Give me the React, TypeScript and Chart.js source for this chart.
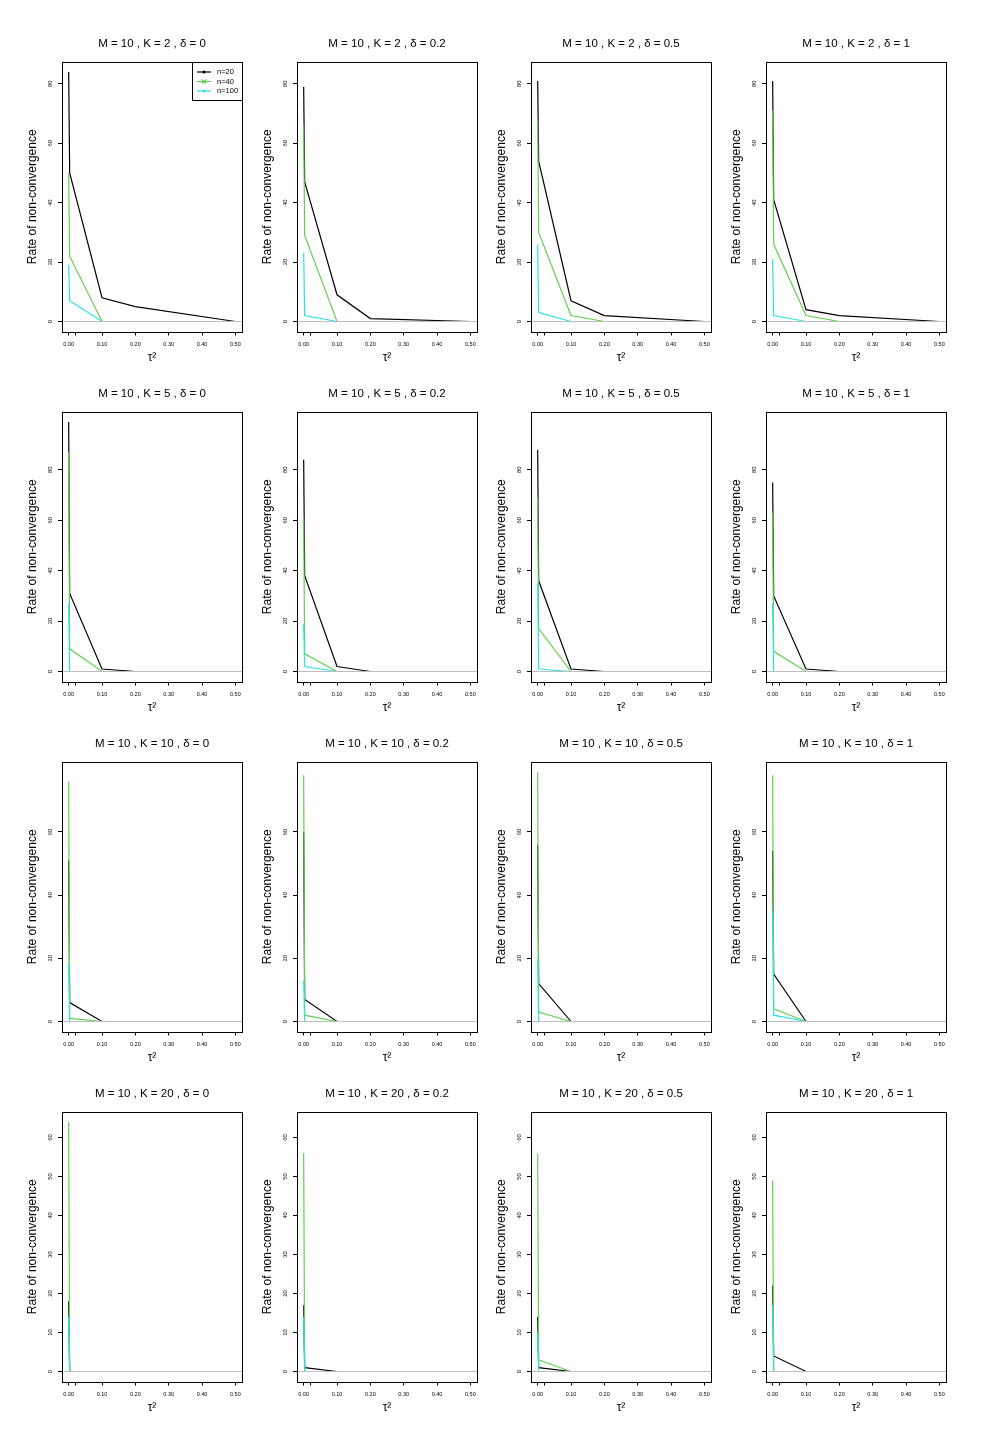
import React, { useEffect, useRef } from "react";
import { Chart, registerables } from "chart.js";

Chart.register(...registerables);

const FONT = "'Liberation Sans', Arial, Helvetica, sans-serif";

// x positions (tau^2) of the simulated settings
const tau2 = [0, 0.003, 0.1, 0.2, 0.5];
const xTickValues = [0, 0.02, 0.1, 0.2, 0.3, 0.4, 0.5];
const xTickLabels = ["0.00", "", "0.10", "0.20", "0.30", "0.40", "0.50"];

const kValues = [2, 5, 10, 20];
const deltaLabels = ["0", "0.2", "0.5", "1"];

const yTicksK2 = [0, 20, 40, 60, 80];
const yTicksK5 = [0, 20, 40, 60, 80];
const yTicksK10 = [0, 20, 40, 60];
const yTicksK20 = [0, 10, 20, 30, 40, 50, 60];

const seriesLabels = ["n=20", "n=40", "n=100"];
const seriesColors = ["#000000", "#61D04F", "#28E2E5"];

// Each array: one row per delta (0, 0.2, 0.5, 1); values at tau2 points
const k2n20 = [[84, 50, 8, 5, 0], [79, 47, 9, 1, 0], [81, 54, 7, 2, 0], [81, 41, 4, 2, 0]];
const k2n40 = [[50, 22, 0, 0, 0], [66, 29, 0, 0, 0], [68, 30, 2, 0, 0], [71, 26, 2, 0, 0]];
const k2n100 = [[19, 7, 0, 0, 0], [23, 2, 0, 0, 0], [26, 3, 0, 0, 0], [21, 2, 0, 0, 0]];

const k5n20 = [[99, 31, 1, 0, 0], [84, 38, 2, 0, 0], [88, 36, 1, 0, 0], [75, 30, 1, 0, 0]];
const k5n40 = [[87, 9, 0, 0, 0], [61, 7, 0, 0, 0], [69, 17, 0, 0, 0], [63, 8, 0, 0, 0]];
const k5n100 = [[27, 0, 0, 0, 0], [19, 2, 0, 0, 0], [35, 1, 0, 0, 0], [27, 0, 0, 0, 0]];

const k10n20 = [[51, 6, 0, 0, 0], [60, 7, 0, 0, 0], [56, 12, 0, 0, 0], [54, 15, 0, 0, 0]];
const k10n40 = [[76, 1, 0, 0, 0], [78, 2, 0, 0, 0], [79, 3, 0, 0, 0], [78, 4, 0, 0, 0]];
const k10n100 = [[18, 0, 0, 0, 0], [13, 0, 0, 0, 0], [20, 0, 0, 0, 0], [35, 2, 0, 0, 0]];

const k20n20 = [[18, 0, 0, 0, 0], [17, 1, 0, 0, 0], [14, 1, 0, 0, 0], [22, 4, 0, 0, 0]];
const k20n40 = [[64, 0, 0, 0, 0], [56, 0, 0, 0, 0], [56, 3, 0, 0, 0], [49, 0, 0, 0, 0]];
const k20n100 = [[14, 0, 0, 0, 0], [14, 0, 0, 0, 0], [10, 0, 0, 0, 0], [17, 0, 0, 0, 0]];

const rowsN20 = [k2n20, k5n20, k10n20, k20n20];
const rowsN40 = [k2n40, k5n40, k10n40, k20n40];
const rowsN100 = [k2n100, k5n100, k10n100, k20n100];
const rowYTicks = [yTicksK2, yTicksK5, yTicksK10, yTicksK20];

// layout (page px)
const BOX_LEFT = [62, 297, 531, 766];
const BOX_TOP = [62, 412, 762, 1112];
const Y_AXIS_W = 42;
const TOP_SPACE = 35;
const CANVAS_W = 234;
const CANVAS_H = 350;
const BOX_W = 180;
const X_AXIS_H = CANVAS_H - TOP_SPACE - 269.5;

const boxPlugin = {
  id: "rBox",
  afterDatasetsDraw(chart: any) {
    const { ctx, chartArea } = chart;
    const ys = chart.scales.y;
    const y0 = ys.getPixelForValue(0);
    ctx.save();
    ctx.strokeStyle = "#BEBEBE";
    ctx.lineWidth = 1.2;
    ctx.beginPath();
    ctx.moveTo(chartArea.left, y0);
    ctx.lineTo(chartArea.right, y0);
    ctx.stroke();
    ctx.strokeStyle = "#000";
    ctx.lineWidth = 1;
    ctx.strokeRect(
      Math.round(chartArea.left) + 0.5,
      Math.round(chartArea.top) + 0.5,
      Math.round(chartArea.right - chartArea.left),
      Math.round(chartArea.bottom - chartArea.top)
    );
    ctx.restore();
  },
};

const legendPlugin = {
  id: "rLegend",
  afterDraw(chart: any) {
    const { ctx, chartArea } = chart;
    const w = 50;
    const h = 38;
    const x0 = Math.round(chartArea.right - w);
    const y0 = Math.round(chartArea.top);
    ctx.save();
    ctx.fillStyle = "#fff";
    ctx.fillRect(x0, y0, w, h);
    ctx.strokeStyle = "#000";
    ctx.lineWidth = 1;
    ctx.strokeRect(x0 + 0.5, y0 + 0.5, w, h);
    seriesLabels.forEach((lab, i) => {
      const y = y0 + 10 + i * 9.5;
      const col = seriesColors[i];
      ctx.strokeStyle = col;
      ctx.lineWidth = 1.2;
      ctx.beginPath();
      ctx.moveTo(x0 + 5, y);
      ctx.lineTo(x0 + 19, y);
      ctx.stroke();
      const mx = x0 + 12;
      if (i === 1) {
        ctx.beginPath();
        ctx.moveTo(mx - 2.2, y - 2.2);
        ctx.lineTo(mx + 2.2, y + 2.2);
        ctx.moveTo(mx - 2.2, y + 2.2);
        ctx.lineTo(mx + 2.2, y - 2.2);
        ctx.stroke();
      } else {
        ctx.fillStyle = col;
        ctx.beginPath();
        ctx.arc(mx, y, 1.6, 0, Math.PI * 2);
        ctx.fill();
      }
      ctx.fillStyle = "#000";
      ctx.font = `7.5px ${FONT}`;
      ctx.textBaseline = "middle";
      ctx.textAlign = "left";
      ctx.fillText(lab, x0 + 25, y);
    });
    ctx.restore();
  },
};

function Panel({ r, c }: { r: number; c: number }) {
  const ref = useRef<HTMLCanvasElement | null>(null);
  useEffect(() => {
    if (!ref.current) return;
    const series = [rowsN20[r][c], rowsN40[r][c], rowsN100[r][c]];
    const rowMax = Math.max(
      ...rowsN20[r].flat(),
      ...rowsN40[r].flat(),
      ...rowsN100[r].flat()
    );
    const yTicks = rowYTicks[r];
    const plugins: any[] = [boxPlugin];
    if (r === 0 && c === 0) plugins.push(legendPlugin);
    const chart = new Chart(ref.current, {
      type: "line",
      data: {
        datasets: series.map((vals, i) => ({
          label: seriesLabels[i],
          data: tau2.map((x, j) => ({ x, y: vals[j] })),
          borderColor: seriesColors[i],
          backgroundColor: seriesColors[i],
          borderWidth: 1.2,
          pointRadius: 0,
          tension: 0,
          fill: false,
          order: 3 - i,
        })),
      },
      options: {
        responsive: false,
        animation: false,
        events: [],
        layout: { padding: { left: 0, right: CANVAS_W - Y_AXIS_W - BOX_W, top: 0, bottom: 0 } },
        plugins: {
          legend: { display: false },
          tooltip: { enabled: false },
          title: {
            display: true,
            fullSize: false,
            text: `M = 10 , K = ${kValues[r]} , δ = ${deltaLabels[c]}`,
            color: "#000",
            font: { family: FONT, size: 11.5, weight: "normal" as any, lineHeight: 1.2 },
            padding: { top: 10.4, bottom: TOP_SPACE - 10.4 - 13.8 },
          },
        },
        scales: {
          x: {
            type: "linear",
            min: -0.02,
            max: 0.52,
            afterBuildTicks: (s: any) => {
              s.ticks = xTickValues.map((v) => ({ value: v }));
            },
            afterFit: (s: any) => {
              s.height = X_AXIS_H;
            },
            ticks: {
              autoSkip: false,
              maxRotation: 0,
              minRotation: 0,
              padding: 6,
              color: "#000",
              font: { family: FONT, size: 5.5 },
              callback: (v: any) => {
                const k = xTickValues.indexOf(Number(v));
                return k >= 0 ? xTickLabels[k] : "";
              },
            },
            grid: {
              display: true,
              drawOnChartArea: false,
              drawTicks: true,
              tickLength: 4,
              color: "#000",
              lineWidth: 1,
            },
            border: { display: false },
            title: {
              display: true,
              text: "τ²",
              color: "#000",
              font: { family: FONT, size: 12, lineHeight: 1.2 },
              padding: { top: 0, bottom: X_AXIS_H - 26 - 7.2 },
            },
          },
          y: {
            type: "linear",
            min: -0.04 * rowMax,
            max: 1.04 * rowMax,
            afterBuildTicks: (s: any) => {
              s.ticks = yTicks.map((v) => ({ value: v }));
            },
            afterFit: (s: any) => {
              s.width = Y_AXIS_W;
            },
            ticks: {
              autoSkip: false,
              minRotation: 90,
              maxRotation: 90,
              crossAlign: "center",
              padding: 4,
              color: "#000",
              font: { family: FONT, size: 5.8 },
              callback: (v: any) => String(v),
            },
            grid: {
              display: true,
              drawOnChartArea: false,
              drawTicks: true,
              tickLength: 4,
              color: "#000",
              lineWidth: 1,
            },
            border: { display: false },
            title: {
              display: true,
              text: "Rate of non-convergence",
              color: "#000",
              font: { family: FONT, size: 12, lineHeight: 1.2 },
              padding: { top: 13 - 7.2, bottom: 0 },
            },
          },
        },
      } as any,
      plugins,
    });
    return () => chart.destroy();
  }, [r, c]);

  return (
    <canvas
      ref={ref}
      width={CANVAS_W}
      height={CANVAS_H}
      style={{
        position: "absolute",
        left: BOX_LEFT[c] - Y_AXIS_W,
        top: BOX_TOP[r] - TOP_SPACE,
        width: CANVAS_W,
        height: CANVAS_H,
      }}
    />
  );
}

export default function App() {
  const cells: JSX.Element[] = [];
  for (let r = 0; r < 4; r++) {
    for (let c = 0; c < 4; c++) {
      cells.push(<Panel key={`${r}-${c}`} r={r} c={c} />);
    }
  }
  return (
    <div
      style={{
        position: "absolute",
        left: 0,
        top: 0,
        width: 990,
        height: 1452,
        background: "#fff",
      }}
    >
      {cells}
    </div>
  );
}
